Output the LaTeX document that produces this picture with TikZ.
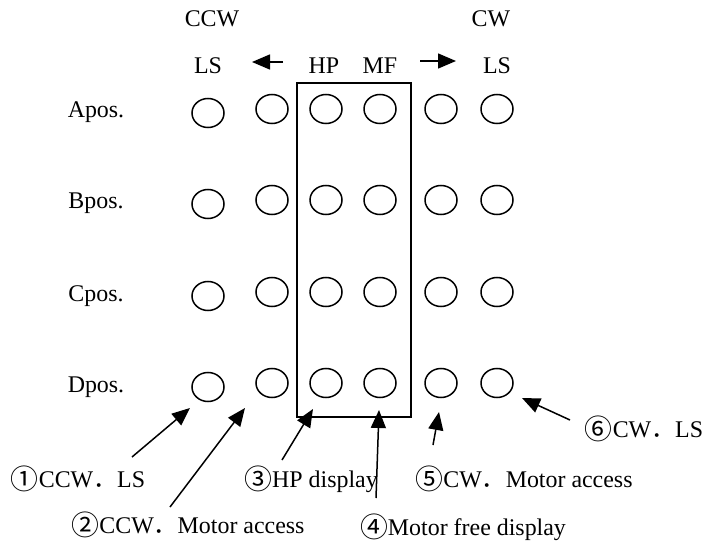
\documentclass[tikz,border=0pt]{standalone}
\usepackage{fontspec}
\setmainfont{Liberation Serif}
\newfontfamily\jpfont{Noto Sans CJK JP}
\newcommand\circnum[1]{\raisebox{-2.5bp}{\jpfont\fontsize{28}{28}\selectfont #1}}
\usetikzlibrary{arrows.meta,shapes.geometric}

\begin{document}
\begin{tikzpicture}[x=1bp, y=-1bp,
    lamp/.style={ellipse, draw=black, line width=1.5bp, minimum width=32bp, minimum height=29bp, inner sep=0pt},
    txt/.style={inner sep=0pt, anchor=base, font=\fontsize{24}{28}\selectfont},
    pointer/.style={-{Triangle[length=18bp, width=15bp]}, line width=1.5bp},
    ]
    \useasboundingbox (0,0) rectangle (706,542);

    % heading
    \node [txt] (ccw) at (212,27) {CCW};
    \node [txt] (cw) at (491,27) {CW};
    \node [txt] (lsl) at (208,74) {LS};
    \node [txt] (hp) at (324,74) {HP};
    \node [txt] (mf) at (380,74) {MF};
    \node [txt] (lsr) at (497,74) {LS};
    \coordinate (la) at (283,62);
    \coordinate (lb) at (252,62);
    \coordinate (ra) at (420,61);
    \coordinate (rb) at (456,61);
    \draw [pointer] (la) -- (lb);
    \draw [pointer] (ra) -- (rb);

    % display frame
    \draw [line width=1.5bp] (297,83) rectangle (411,417);

    % rows
    \node [txt] (apos) at (96,118) {Apos.};
    \node [lamp] (a1) at (208,113) {};
    \node [lamp] (a2) at (272,109) {};
    \node [lamp] (a3) at (326,109) {};
    \node [lamp] (a4) at (380,109) {};
    \node [lamp] (a5) at (441,109) {};
    \node [lamp] (a6) at (497,109) {};

    \node [txt] (bpos) at (96,209) {Bpos.};
    \node [lamp] (b1) at (208,204) {};
    \node [lamp] (b2) at (272,200) {};
    \node [lamp] (b3) at (326,200) {};
    \node [lamp] (b4) at (380,200) {};
    \node [lamp] (b5) at (441,200) {};
    \node [lamp] (b6) at (497,200) {};

    \node [txt] (cpos) at (96,301) {Cpos.};
    \node [lamp] (c1) at (208,296) {};
    \node [lamp] (c2) at (272,292) {};
    \node [lamp] (c3) at (326,292) {};
    \node [lamp] (c4) at (380,292) {};
    \node [lamp] (c5) at (441,292) {};
    \node [lamp] (c6) at (497,292) {};

    \node [txt] (dpos) at (96,392) {Dpos.};
    \node [lamp] (d1) at (208,387) {};
    \node [lamp] (d2) at (272,383) {};
    \node [lamp] (d3) at (326,383) {};
    \node [lamp] (d4) at (380,383) {};
    \node [lamp] (d5) at (441,383) {};
    \node [lamp] (d6) at (497,383) {};

    % captions
    \node [txt] (n1) at (78,487) {\circnum{①}CCW{\jpfont ．}LS};
    \node [txt] (n2) at (188,533) {\circnum{②}CCW{\jpfont ．}Motor access};
    \node [txt] (n3) at (311,487) {\circnum{③}HP display};
    \node [txt] (n4) at (463,535) {\circnum{④}Motor free display};
    \node [txt] (n5) at (524,487) {\circnum{⑤}CW{\jpfont ．}Motor access};
    \node [txt] (n6) at (644,437) {\circnum{⑥}CW{\jpfont ．}LS};

    \coordinate (t1) at (132,457);  \coordinate (p1) at (190,408);
    \coordinate (t2) at (170,507);  \coordinate (p2) at (245,408);
    \coordinate (t3) at (282,460);  \coordinate (p3) at (313,409);
    \coordinate (t4) at (376,498);  \coordinate (p4) at (379,410);
    \coordinate (t5) at (433,445);  \coordinate (p5) at (439,412);
    \coordinate (t6) at (570,420);  \coordinate (p6) at (522,398);
    \draw [pointer] (t1) -- (p1);
    \draw [pointer] (t2) -- (p2);
    \draw [pointer] (t3) -- (p3);
    \draw [pointer] (t4) -- (p4);
    \draw [pointer] (t5) -- (p5);
    \draw [pointer] (t6) -- (p6);
\end{tikzpicture}
\end{document}
